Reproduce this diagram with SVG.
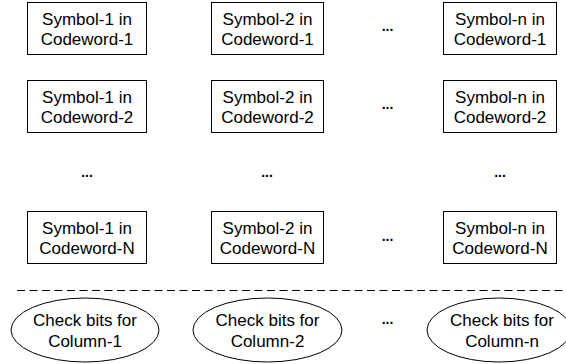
<svg xmlns="http://www.w3.org/2000/svg" width="566" height="364" viewBox="0 0 566 364">
<style>
.box{fill:#fff;stroke:#000;stroke-width:1}
.t{font-family:"Liberation Sans",Arial,sans-serif;font-size:17px;fill:#000;text-anchor:middle}
.d{font-family:"Liberation Sans",Arial,sans-serif;font-size:14px;font-weight:bold;fill:#000;text-anchor:middle}
.sep{stroke:#000;stroke-width:1;stroke-dasharray:8,4.5;fill:none}
</style>
<rect width="566" height="364" fill="#fff"/>
<g id="s1c1"><rect class="box" x="27.5" y="2.5" width="119" height="52"/><text class="t" x="87" y="24.5">Symbol-1 in</text><text class="t" x="87" y="45">Codeword-1</text></g>
<g id="s2c1"><rect class="box" x="211.5" y="2.5" width="112" height="52"/><text class="t" x="267.5" y="24.5">Symbol-2 in</text><text class="t" x="267.5" y="45">Codeword-1</text></g>
<g id="snc1"><rect class="box" x="443.5" y="2.5" width="113" height="52"/><text class="t" x="500" y="24.5">Symbol-n in</text><text class="t" x="500" y="45">Codeword-1</text></g>
<g id="dots-r1"><text class="d" x="387.5" y="30.5">...</text></g>

<g id="s1c2"><rect class="box" x="27.5" y="80.5" width="119" height="52"/><text class="t" x="87" y="102.5">Symbol-1 in</text><text class="t" x="87" y="123">Codeword-2</text></g>
<g id="s2c2"><rect class="box" x="211.5" y="80.5" width="112" height="52"/><text class="t" x="267.5" y="102.5">Symbol-2 in</text><text class="t" x="267.5" y="123">Codeword-2</text></g>
<g id="snc2"><rect class="box" x="443.5" y="80.5" width="113" height="52"/><text class="t" x="500" y="102.5">Symbol-n in</text><text class="t" x="500" y="123">Codeword-2</text></g>
<g id="dots-r2"><text class="d" x="387.5" y="108.5">...</text></g>

<g id="dots-mid"><text class="d" x="87" y="176.5">...</text><text class="d" x="267" y="176.5">...</text><text class="d" x="500" y="176.5">...</text></g>

<g id="s1cN"><rect class="box" x="27.5" y="211.5" width="119" height="52"/><text class="t" x="87" y="233.5">Symbol-1 in</text><text class="t" x="87" y="254">Codeword-N</text></g>
<g id="s2cN"><rect class="box" x="211.5" y="211.5" width="112" height="52"/><text class="t" x="267.5" y="233.5">Symbol-2 in</text><text class="t" x="267.5" y="254">Codeword-N</text></g>
<g id="sncN"><rect class="box" x="443.5" y="211.5" width="113" height="52"/><text class="t" x="500" y="233.5">Symbol-n in</text><text class="t" x="500" y="254">Codeword-N</text></g>
<g id="dots-rN"><text class="d" x="387.5" y="240.5">...</text></g>

<g id="connectors"><line class="sep" x1="17" y1="290.5" x2="566" y2="290.5"/></g>

<g id="chk1"><ellipse class="box" cx="85" cy="330" rx="74" ry="32"/><text class="t" x="85" y="326">Check bits for</text><text class="t" x="85" y="346.5">Column-1</text></g>
<g id="chk2"><ellipse class="box" cx="267.5" cy="330" rx="74.5" ry="32"/><text class="t" x="267.5" y="326">Check bits for</text><text class="t" x="267.5" y="346.5">Column-2</text></g>
<g id="chkn"><ellipse class="box" cx="499" cy="330" rx="72" ry="32"/><text class="t" x="502" y="326">Check bits for</text><text class="t" x="502" y="346.5">Column-n</text></g>
<g id="dots-chk"><text class="d" x="387.5" y="324">...</text></g>
</svg>
